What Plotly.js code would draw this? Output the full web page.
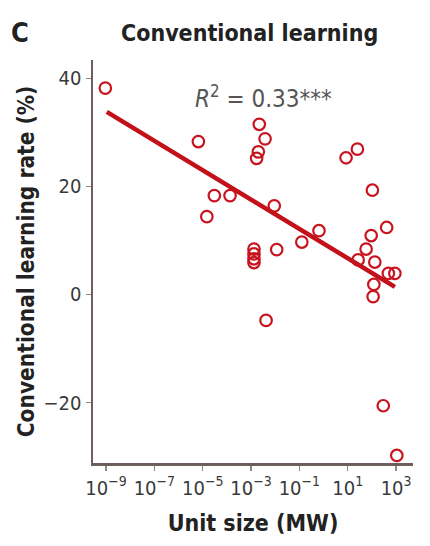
<!DOCTYPE html>
<html>
<head>
<meta charset="utf-8">
<script src="https://cdn.plot.ly/plotly-3.0.1.min.js"></script>
<style>html,body{margin:0;padding:0;background:#fff;}#chart{width:430px;height:546px;}</style>
</head>
<body>
<div id="chart"></div>
<script>
// Unit size (MW), log10 values
const unitSizeLog = [-9.03, -5.18, -4.52, -3.87, -4.83, -2.66, -2.42, -2.70, -2.77, 0.93, 1.40, 2.02, -2.04, -0.19, -0.90, -1.94, -2.88, -2.88, -2.88, -2.88, 2.61, 1.97, 1.76, 1.43, 2.12, 2.68, 2.95, 2.08, 2.05, -2.38, 2.47, 3.03];
// Conventional learning rate (%)
const learningRate = [38.2, 28.3, 18.3, 18.3, 14.4, 31.5, 28.8, 26.4, 25.2, 25.3, 26.9, 19.3, 16.4, 11.8, 9.7, 8.3, 8.4, 7.5, 6.6, 5.9, 12.4, 10.9, 8.4, 6.4, 6.0, 3.9, 3.9, 1.85, -0.4, -4.8, -20.6, -29.8];
// Fitted regression line
const fitSizeLog = [-8.97, 2.95];
const fitRate = [33.8, 1.4];
const xTickExp = [-9, -7, -5, -3, -1, 1, 3];
const yTickVals = [-20, 0, 20, 40];
const yTickText = ["\u221220", "0", "20", "40"];

const pow10 = a => a.map(v => Math.pow(10, v));
const FONT = '"DejaVu Sans Condensed", "Liberation Sans Narrow", sans-serif';
const RED = 'rgb(200,20,30)';

const traces = [
  {
    x: pow10(fitSizeLog), y: fitRate, type: 'scatter', mode: 'lines',
    line: {color: 'rgb(196,16,24)', width: 4.5}, hoverinfo: 'skip'
  },
  {
    x: pow10(unitSizeLog), y: learningRate, type: 'scatter', mode: 'markers',
    marker: {symbol: 'circle-open', size: 11.5, color: RED, line: {width: 2.2, color: RED}}
  }
];

const layout = {
  width: 430, height: 546,
  margin: {l: 93, r: 17, t: 60, b: 83},
  paper_bgcolor: '#fff', plot_bgcolor: '#fff',
  showlegend: false,
  font: {family: FONT, color: '#333'},
  xaxis: {
    type: 'log', range: [-9.54, 3.70],
    tickvals: pow10(xTickExp),
    ticktext: xTickExp.map(e => '10<sup>' + (e < 0 ? '\u2212' + (-e) : e) + '</sup>'),
    tickfont: {size: 20, color: '#3a3a3a', family: FONT},
    ticks: 'outside', ticklen: 5, tickwidth: 1.5, tickcolor: '#888',
    showline: true, linecolor: '#6e5f5c', linewidth: 2.5,
    showgrid: false, zeroline: false,
    title: {text: '<b>Unit size (MW)</b>', font: {size: 23, color: '#222', family: FONT}, standoff: 17}
  },
  yaxis: {
    range: [-31.2, 43.4],
    tickvals: yTickVals, ticktext: yTickText,
    tickfont: {size: 20, color: '#3a3a3a', family: FONT},
    ticks: 'outside', ticklen: 5, tickwidth: 1.5, tickcolor: '#888',
    showline: true, linecolor: '#6e5f5c', linewidth: 2.5,
    showgrid: false, zeroline: false,
    title: {text: '<b>Conventional learning rate (%)</b>', font: {size: 22.5, color: '#222', family: FONT}, standoff: 3}
  },
  annotations: [
    {text: '<b>C</b>', xref: 'paper', yref: 'paper', x: -0.262, y: 1.067, xanchor: 'left', yanchor: 'middle',
     showarrow: false, font: {size: 27, color: '#222', family: FONT}},
    {text: '<b>Conventional learning</b>', xref: 'paper', yref: 'paper', x: 0.49, y: 1.067, xanchor: 'center', yanchor: 'middle',
     showarrow: false, font: {size: 23, color: '#222', family: FONT}},
    {text: '<i>R</i><sup>2</sup> = 0.33***', xref: 'x', yref: 'y', x: -5.4, y: 36.5, xanchor: 'left', yanchor: 'middle',
     showarrow: false, font: {size: 24, color: '#555', family: FONT}}
  ]
};

Plotly.newPlot('chart', traces, layout, {displayModeBar: false, staticPlot: true});
</script>
</body>
</html>
